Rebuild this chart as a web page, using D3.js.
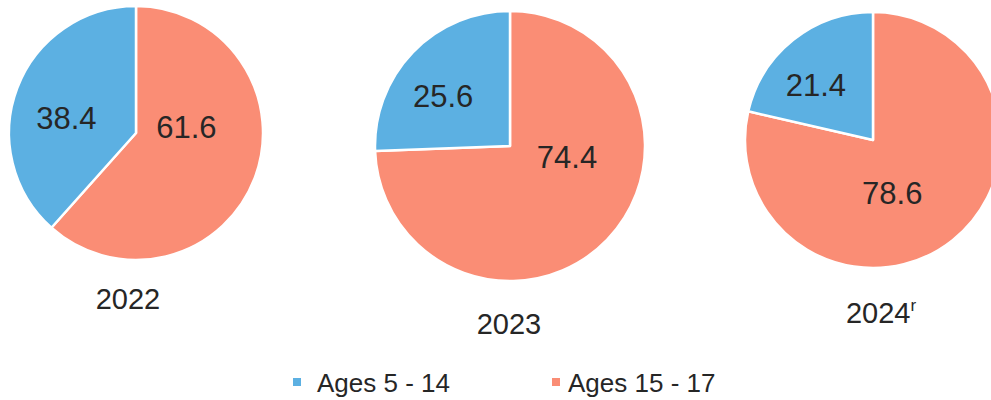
<!DOCTYPE html>
<html>
<head>
<meta charset="utf-8">
<script src="https://cdn.jsdelivr.net/npm/d3@7"></script>
<style>
  html, body { margin: 0; padding: 0; background: #fff; }
  svg { display: block; font-family: "Liberation Sans", Arial, sans-serif; }
</style>
</head>
<body>
<div id="chart"></div>
<script>
// values
const years = ["2022", "2023", "2024"];
const yearMarks = ["", "", "r"];
const categories = ["Ages 15 - 17", "Ages 5 - 14"];
const ages15to17 = [61.6, 74.4, 78.6];
const ages5to14 = [38.4, 25.6, 21.4];

const colors = { "Ages 5 - 14": "#5cb0e2", "Ages 15 - 17": "#fa8d75" };

// layout per pie (centre, radius, year baseline, label polar spots)
const layout = [
  { cx: 136, cy: 133, r: 127, yearY: 309, yearX: 128, lab: [[83, 0.40], [282, 0.56]] },
  { cx: 510, cy: 146, r: 135, yearY: 334, yearX: 509, lab: [[101, 0.43], [307, 0.62]] },
  { cx: 873, cy: 140, r: 128, yearY: 323, yearX: 881, lab: [[160, 0.44], [314, 0.62]] }
];

const width = 991, height = 400;

const svg = d3.select("#chart").append("svg")
  .attr("width", width)
  .attr("height", height)
  .attr("viewBox", [0, 0, width, height]);

const pie = d3.pie().sort(null).value(d => d.value);

years.forEach((yr, i) => {
  const L = layout[i];
  const data = [
    { key: categories[0], value: ages15to17[i] },
    { key: categories[1], value: ages5to14[i] }
  ];
  const arcs = pie(data);
  const arc = d3.arc().innerRadius(0).outerRadius(L.r);

  const g = svg.append("g")
    .attr("transform", `translate(${L.cx},${L.cy})`);

  g.selectAll("path")
    .data(arcs)
    .join("path")
      .attr("d", arc)
      .attr("fill", d => colors[d.data.key])
      .attr("stroke", "#fff")
      .attr("stroke-width", 2.5)
      .attr("stroke-linejoin", "round");

  g.selectAll("text.val")
    .data(arcs)
    .join("text")
      .attr("class", "val")
      .attr("transform", (d, j) => {
        const [deg, k] = L.lab[j];
        const p = d3.pointRadial(deg * Math.PI / 180, k * L.r);
        return `translate(${p[0]},${p[1]})`;
      })
      .attr("text-anchor", "middle")
      .attr("dy", "0.36em")
      .attr("font-size", 31)
      .attr("fill", "#262626")
      .text(d => d.data.value.toFixed(1));

  const t = svg.append("text")
    .attr("x", L.yearX)
    .attr("y", L.yearY)
    .attr("text-anchor", "middle")
    .attr("font-size", 29)
    .attr("fill", "#262626")
    .text(yr);
  if (yearMarks[i]) {
    t.append("tspan")
      .attr("font-size", 17)
      .attr("dy", -12)
      .text(yearMarks[i]);
  }
});

// legend
const legendItems = [categories[1], categories[0]];
const legendX = d3.scalePoint().domain(legendItems).range([293, 552]);

const lg = svg.append("g").selectAll("g")
  .data(legendItems)
  .join("g")
    .attr("transform", d => `translate(${legendX(d)},392)`);

lg.append("rect")
  .attr("x", 0)
  .attr("y", -14)
  .attr("width", 8)
  .attr("height", 8)
  .attr("fill", d => colors[d]);

lg.append("text")
  .attr("x", (d, i) => i === 0 ? 24 : 16)
  .attr("y", 0)
  .attr("font-size", 26)
  .attr("fill", "#262626")
  .text(d => d);
</script>
</body>
</html>
